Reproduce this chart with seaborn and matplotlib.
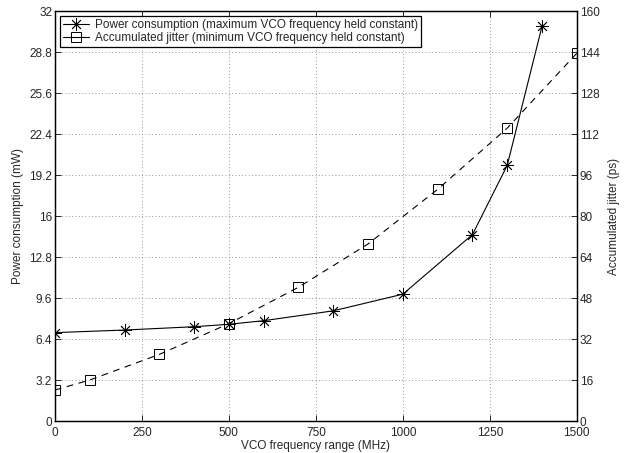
import numpy as np
import matplotlib
matplotlib.use("Agg")
import matplotlib.pyplot as plt
from matplotlib.lines import Line2D
import seaborn as sns

# data
power_freq = [0, 200, 400, 500, 600, 800, 1000, 1200, 1300, 1400]
power_mw = [6.9, 7.1, 7.36, 7.55, 7.83, 8.6, 9.9, 14.55, 19.95, 30.8]

jitter_freq = [0, 100, 300, 500, 700, 900, 1100, 1300, 1500]
jitter_ps = [12.1, 16.0, 26.0, 38.0, 52.2, 69.1, 90.4, 114.3, 143.5]

x_ticks = [0, 250, 500, 750, 1000, 1250, 1500]
left_ticks = [0, 3.2, 6.4, 9.6, 12.8, 16, 19.2, 22.4, 25.6, 28.8, 32]
right_ticks = [0, 16, 32, 48, 64, 80, 96, 112, 128, 144, 160]

power_label = "Power consumption (maximum VCO frequency held constant)"
jitter_label = "Accumulated jitter (minimum VCO frequency held constant)"

sns.set_style("ticks")
plt.rcParams['font.family'] = ['Liberation Sans', 'DejaVu Sans']
plt.rcParams['xtick.direction'] = 'in'
plt.rcParams['ytick.direction'] = 'in'

fig = plt.figure(figsize=(6.29, 4.53), dpi=100)
ax = fig.add_axes([0.0874, 0.0706, 0.8296, 0.9051])
ax2 = ax.twinx()

asterisk = (8, 2, 0)
sns.lineplot(x=power_freq, y=power_mw, ax=ax, color='black', linewidth=0.8,
             marker=asterisk, markersize=9, markeredgewidth=0.6,
             markeredgecolor='black', legend=False)
sns.lineplot(x=jitter_freq, y=jitter_ps, ax=ax2, color='black', linewidth=0.8,
             linestyle=(0, (6, 5)), marker='s', markersize=7.5,
             markerfacecolor='none', markeredgecolor='black',
             markeredgewidth=0.7, legend=False)

ax.set_xlim(0, 1500)
ax.set_ylim(0, 32)
ax2.set_ylim(0, 160)
ax.set_xticks(x_ticks)
ax.set_xticklabels([f'{v:g}' for v in x_ticks])
ax.set_yticks(left_ticks)
ax.set_yticklabels([f'{v:g}' for v in left_ticks])
ax2.set_yticks(right_ticks)
ax2.set_yticklabels([f'{v:g}' for v in right_ticks])

ax.grid(True, linestyle=(0, (1, 3)), color='0.45', linewidth=0.6)
ax.tick_params(axis='y', labelsize=8.5, length=4, width=0.7, pad=2)
ax.tick_params(axis='x', labelsize=8.5, length=4, width=0.7, top=True, pad=4)
ax2.tick_params(axis='y', labelsize=8.5, length=4, width=0.7, pad=2)
for a in (ax, ax2):
    for s in a.spines.values():
        s.set_linewidth(0.9)
        s.set_color('black')

ax.set_xlabel('VCO frequency range (MHz)', fontsize=8.5, labelpad=1)
ax.set_ylabel('Power consumption (mW)', fontsize=8.5, labelpad=4)
ax2.set_ylabel('Accumulated jitter (ps)', fontsize=8.5, labelpad=6)

handles = [
    Line2D([], [], color='black', linewidth=0.8, marker=asterisk,
           markersize=9, markeredgewidth=0.6),
    Line2D([], [], color='black', linewidth=0.8, marker='s', markersize=7.5,
           markerfacecolor='none', markeredgewidth=0.7),
]
leg = ax2.legend(handles, [power_label, jitter_label], loc='upper left',
                 fontsize=8.5, frameon=True, fancybox=False, edgecolor='black',
                 handlelength=2.2, handletextpad=0.5, borderpad=0.25,
                 labelspacing=0.15, borderaxespad=0.4)
leg.get_frame().set_linewidth(0.9)
leg.get_frame().set_alpha(1)

fig.savefig('out.png', dpi=100)
